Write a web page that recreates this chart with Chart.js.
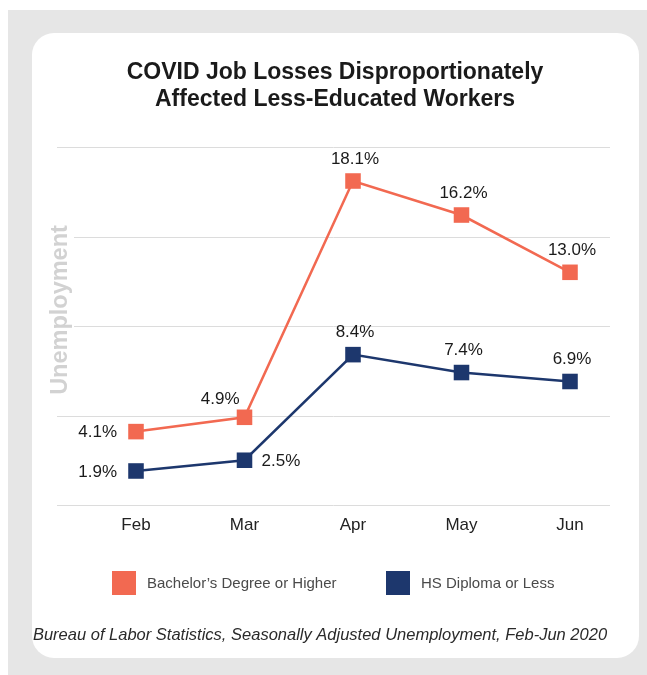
<!DOCTYPE html>
<html>
<head>
<meta charset="utf-8">
<script src="https://cdn.jsdelivr.net/npm/chart.js@4"></script>
<style>
  html, body { margin: 0; padding: 0; background: #fff; }
  #wrap { width: 647px; height: 675px; }
</style>
</head>
<body>
<div id="wrap"><canvas id="chart"></canvas></div>
<script>
// Data
const months = ['Feb', 'Mar', 'Apr', 'May', 'Jun'];
const bachelors = [4.1, 4.9, 18.1, 16.2, 13.0];
const hsDiploma = [1.9, 2.5, 8.4, 7.4, 6.9];
const seriesNames = ['Bachelor\u2019s Degree or Higher', 'HS Diploma or Less'];
const yTicks = [0, 5, 10, 15, 20];

const titleLines = ['COVID Job Losses Disproportionately', 'Affected Less-Educated Workers'];
const yTitle = 'Unemployment';
const sourceNote = 'Bureau of Labor Statistics, Seasonally Adjusted Unemployment, Feb-Jun 2020';

const ORANGE = '#f26951';
const NAVY = '#1d376d';
const FONT = '"Liberation Sans", Arial, Helvetica, sans-serif';

// where each value label sits relative to its marker
const labelPlace = [
    ['left', 'aboveLeft', 'above', 'above', 'above'],
    ['left', 'right', 'above', 'above', 'above']
];

function roundRect(ctx, x, y, w, h, r) {
    ctx.beginPath();
    ctx.moveTo(x + r, y);
    ctx.arcTo(x + w, y, x + w, y + h, r);
    ctx.arcTo(x + w, y + h, x, y + h, r);
    ctx.arcTo(x, y + h, x, y, r);
    ctx.arcTo(x, y, x + w, y, r);
    ctx.closePath();
}

const decor = {
    id: 'decor',
    beforeDraw(chart) {
        const ctx = chart.ctx;
        const y = chart.scales.y;
        ctx.save();
        // page + card
        ctx.fillStyle = '#e6e6e6';
        ctx.fillRect(8, 10, 639, 665);
        ctx.fillStyle = '#ffffff';
        roundRect(ctx, 32, 33, 607, 625, 22);
        ctx.fill();

        // title
        ctx.fillStyle = '#1a1a1a';
        ctx.font = 'bold 23px ' + FONT;
        ctx.textAlign = 'center';
        ctx.textBaseline = 'alphabetic';
        ctx.fillText(titleLines[0], 335, 79);
        ctx.fillText(titleLines[1], 335, 106);

        // grid lines from the y scale
        ctx.strokeStyle = '#dcdcdc';
        ctx.lineWidth = 1;
        yTicks.forEach(t => {
            const py = Math.round(y.getPixelForValue(t)) + 0.5;
            ctx.beginPath();
            ctx.moveTo(57, py);
            ctx.lineTo(610, py);
            ctx.stroke();
        });

        // y axis title with white backing
        ctx.translate(61, 310);
        ctx.rotate(-Math.PI / 2);
        ctx.font = 'bold 23.5px ' + FONT;
        const w = ctx.measureText(yTitle).width;
        ctx.fillStyle = '#ffffff';
        ctx.fillRect(-w / 2 - 3, -13, w + 6, 26);
        ctx.fillStyle = '#d2d2d2';
        ctx.textAlign = 'center';
        ctx.textBaseline = 'middle';
        ctx.fillText(yTitle, 0, 0);
        ctx.restore();

        // x labels
        const x = chart.scales.x;
        ctx.save();
        ctx.fillStyle = '#222';
        ctx.font = '17px ' + FONT;
        ctx.textAlign = 'center';
        ctx.textBaseline = 'middle';
        months.forEach((m, i) => ctx.fillText(m, x.getPixelForValue(i), 525));

        // legend
        const colors = [ORANGE, NAVY];
        const lx = [112, 386];
        ctx.font = '15px ' + FONT;
        ctx.textAlign = 'left';
        seriesNames.forEach((name, i) => {
            ctx.fillStyle = colors[i];
            ctx.fillRect(lx[i], 571, 24, 24);
            ctx.fillStyle = '#4a4a4a';
            ctx.fillText(name, lx[i] + 35, 584);
        });

        // source
        ctx.fillStyle = '#2a2a2a';
        ctx.font = 'italic 16.5px ' + FONT;
        ctx.textAlign = 'center';
        ctx.fillText(sourceNote, 320, 635);
        ctx.restore();
    },
    afterDatasetsDraw(chart) {
        const ctx = chart.ctx;
        ctx.save();
        ctx.fillStyle = '#1a1a1a';
        ctx.font = '17px ' + FONT;
        ctx.textBaseline = 'middle';
        chart.data.datasets.forEach((ds, di) => {
            chart.getDatasetMeta(di).data.forEach((pt, i) => {
                const txt = ds.data[i].toFixed(1) + '%';
                const place = labelPlace[di][i];
                if (place === 'left') {
                    ctx.textAlign = 'right';
                    ctx.fillText(txt, pt.x - 19, pt.y + 1);
                } else if (place === 'right') {
                    ctx.textAlign = 'left';
                    ctx.fillText(txt, pt.x + 17, pt.y + 1);
                } else if (place === 'aboveLeft') {
                    ctx.textAlign = 'right';
                    ctx.fillText(txt, pt.x - 5, pt.y - 18);
                } else {
                    ctx.textAlign = 'center';
                    ctx.fillText(txt, pt.x + 2, pt.y - 22);
                }
            });
        });
        ctx.restore();
    }
};

new Chart(document.getElementById('chart'), {
    type: 'line',
    data: {
        labels: months,
        datasets: [
            {
                label: seriesNames[0], data: bachelors,
                borderColor: ORANGE, backgroundColor: ORANGE,
                borderWidth: 2.5, pointStyle: 'rect', pointRadius: 11,
                pointBorderWidth: 0, tension: 0, clip: false
            },
            {
                label: seriesNames[1], data: hsDiploma,
                borderColor: NAVY, backgroundColor: NAVY,
                borderWidth: 2.5, pointStyle: 'rect', pointRadius: 11,
                pointBorderWidth: 0, tension: 0, clip: false
            }
        ]
    },
    options: {
        responsive: true,
        maintainAspectRatio: false,
        animation: false,
        layout: { padding: { left: 136, right: 77, top: 147, bottom: 170 } },
        scales: {
            x: { display: false, offset: false },
            y: { display: false, min: 0, max: 20 }
        },
        plugins: {
            legend: { display: false },
            tooltip: { enabled: false }
        }
    },
    plugins: [decor]
});
</script>
</body>
</html>
